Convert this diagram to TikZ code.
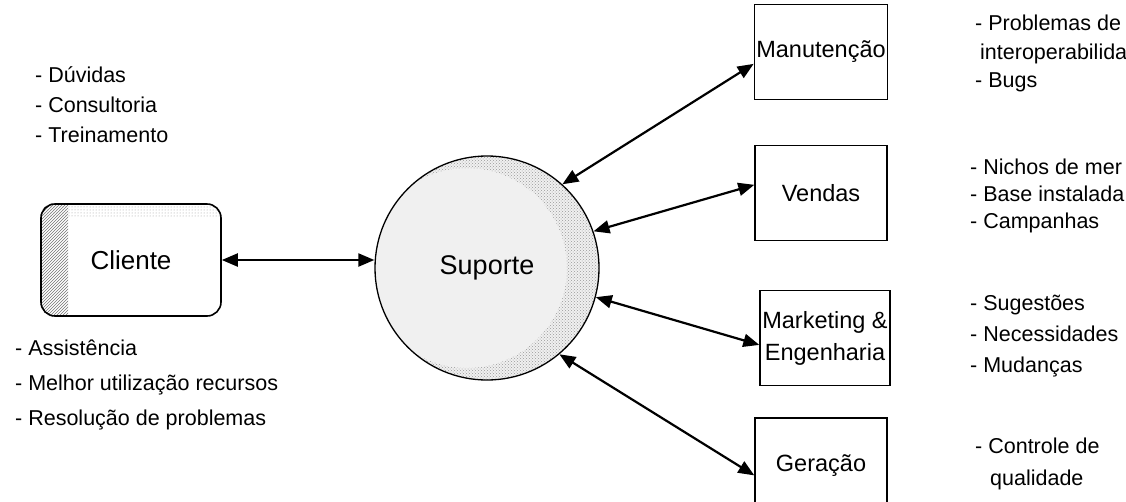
\documentclass[tikz,border=0pt]{standalone}
\usepackage{fontspec}
\setmainfont{Liberation Sans}
\usetikzlibrary{arrows.meta, patterns, calc, backgrounds}

\begin{document}
\begin{tikzpicture}[x=1pt, y=-1pt,
    unit/.style={draw, line width=1.4pt, fill=white, minimum width=132pt, minimum height=95pt,
                 inner sep=2pt, align=center, font=\fontsize{23.5}{32}\selectfont},
    hub/.style={draw, circle, line width=1.3pt, minimum size=224pt, inner sep=0pt,
                font=\fontsize{27}{30}\selectfont},
    cust/.style={draw, line width=1.6pt, rounded corners=14pt, minimum width=180pt,
                 minimum height=112pt, font=\fontsize{26}{30}\selectfont},
    item/.style={anchor=base west, inner sep=0pt, font=\fontsize{21.5}{24}\selectfont},
    link/.style={{Triangle[length=16pt,width=13pt]}-{Triangle[length=16pt,width=13pt]},
                 line width=2.2pt}
  ]
  \clip (0,0) rectangle (1126,501);

  \coordinate (c) at (487,268);
  \fill[black!6] (c) circle (112);
  \begin{scope}
    \clip (c) circle (112);
    \fill[pattern=crosshatch dots, pattern color=black!40, even odd rule]
         (c) circle (112) ($(c)+(-20,0)$) circle (100);
  \end{scope}
  \node[hub] (sup) at (c) {Suporte};

  \node[cust] (cli) at (131,260) {Cliente};
  \begin{scope}[on background layer]
    \clip[rounded corners=14pt] (cli.south west) rectangle (cli.north east);
    \fill[pattern=north east lines, pattern color=black!55]
         (cli.south west) rectangle ($(cli.north west)+(28,0)$);
    \fill[pattern=dots, pattern color=black!40]
         (cli.north west) rectangle ($(cli.north east)+(0,14)$);
  \end{scope}

  \node[unit] (man) at (821,52) {Manutenção};
  \node[unit] (ven) at (821,193) {Vendas};
  \node[unit, minimum width=130pt] (mkt) at (825,338) {Marketing \&\\Engenharia};
  \node[unit, minimum height=96pt] (ger) at (821,466) {Geração};

  \draw[link] (cli.east) -- (cli.east -| sup.west);
  \draw[link] (sup.48) -- (man.190);
  \draw[link] (sup.19) -- (ven.173);
  \draw[link] (sup.-15) -- (mkt.186);
  \draw[link] (sup.-50) -- (ger.188);

  \foreach \t [count=\i] in {- Dúvidas, - Consultoria, - Treinamento}
    \node[item] (nd\i) at (35, 52+30*\i) {\t};
  \foreach \t [count=\i] in {- Assistência, - Melhor utilização recursos, - Resolução de problemas}
    \node[item] (gn\i) at (15, 320+35*\i) {\t};

  \node[item] (mt1) at (975,30) {- Problemas de};
  \node[item] (mt2) at (980,59) {interoperabilida};
  \node[item] (mt3) at (975,87) {- Bugs};
  \foreach \t [count=\i] in {- Nichos de mer, - Base instalada, - Campanhas}
    \node[item] (vd\i) at (970, 147+27*\i) {\t};
  \foreach \t [count=\i] in {- Sugestões, - Necessidades, - Mudanças}
    \node[item] (mk\i) at (970, 279+31*\i) {\t};
  \node[item] (gr1) at (975,453) {- Controle de};
  \node[item] (gr2) at (990,485) {qualidade};
\end{tikzpicture}
\end{document}
